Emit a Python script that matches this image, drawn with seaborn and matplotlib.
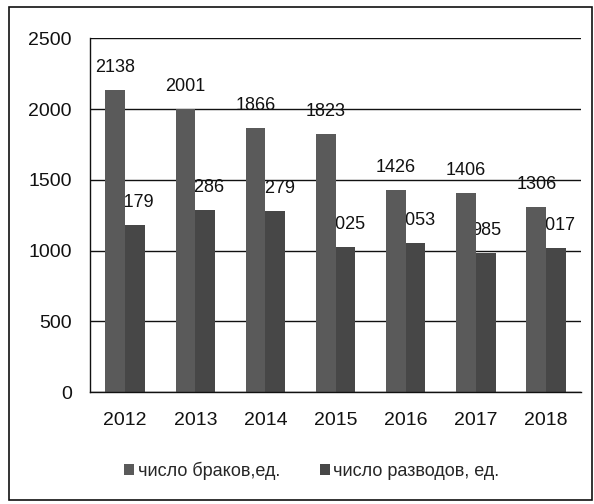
import matplotlib
matplotlib.use('Agg')
import pandas as pd
import seaborn as sns
from matplotlib import pyplot as plt
from matplotlib.patches import Rectangle
from matplotlib.ticker import FixedLocator

years = ['2012', '2013', '2014', '2015', '2016', '2017', '2018']
marriages = [2138, 2001, 1866, 1823, 1426, 1406, 1306]
divorces = [1179, 1286, 1279, 1025, 1053, 985, 1017]
series_names = ['число браков,ед.', 'число разводов, ед.']

df = pd.DataFrame({
    'year': years * 2,
    'value': marriages + divorces,
    'series': [series_names[0]] * len(years) + [series_names[1]] * len(years),
})

sns.set_theme(style='white')
plt.rcParams['font.family'] = ['Liberation Sans', 'DejaVu Sans']

fig = plt.figure(figsize=(5.94, 5.04), dpi=100)
ax = fig.add_axes([0.1515, 0.222, 0.827, 0.702])

ax = sns.barplot(df, x='year', y='value', hue='series', ax=ax,
                 palette=['#5a5a5a', '#474747'], width=0.56, gap=0,
                 saturation=1, linewidth=0, legend=True)

for cont in ax.containers:
    labels = ax.bar_label(cont, padding=10, fontsize=13, color='#111111')
    for t in labels:
        t.set_zorder(0.8)
for p in ax.patches:
    p.set_zorder(1)

ax.set_ylim(0, 2500)
ax.set_yticks([0, 500, 1000, 1500, 2000, 2500])
ax.yaxis.grid(True, color='#111111', linewidth=1.0)
ax.set_axisbelow(True)
for g in ax.get_ygridlines():
    g.set_zorder(0.5)
ax.set_xlabel('')
ax.set_ylabel('')
ax.tick_params(axis='both', which='major', labelsize=14, colors='#111111', length=0, pad=14)
ax.tick_params(axis='y', which='major', length=4, width=1, direction='out', pad=9)
ax.xaxis.set_minor_locator(FixedLocator([i - 0.5 for i in range(len(years) + 1)]))
ax.tick_params(axis='x', which='minor', length=4, width=1, color='#111111', direction='out')
for s in ['top', 'right']:
    ax.spines[s].set_visible(False)
for s in ['left', 'bottom']:
    ax.spines[s].set_color('#111111')
    ax.spines[s].set_linewidth(1.0)
ax.set_xlim(-0.5, len(years) - 0.5)

handles, texts = ax.get_legend_handles_labels()
ax.get_legend().remove()
fig.legend(handles, texts, loc='center', bbox_to_anchor=(0.525, 0.066), ncol=2,
           frameon=False, fontsize=13, handlelength=0.55, handleheight=0.55,
           handletextpad=0.2, columnspacing=2.2)

fig.patches.append(Rectangle((0.015, 0.008), 0.981, 0.978, transform=fig.transFigure,
                             fill=False, edgecolor='#111111', linewidth=1.2))

fig.savefig('out.png', dpi=100)
